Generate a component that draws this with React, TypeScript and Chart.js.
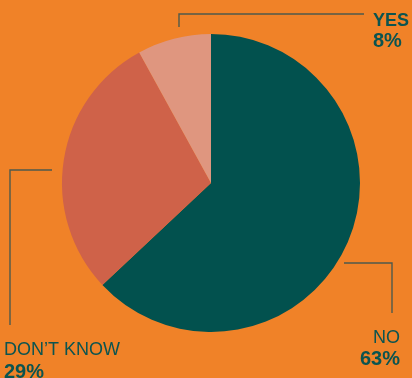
import React, { useEffect, useRef } from "react";
import { Chart, registerables } from "chart.js";

Chart.register(...registerables);

const categories = ["NO", "DON\u2019T KNOW", "YES"];
const values = [63, 29, 8];
const colors = ["#02514E", "#CF6249", "#DF967F"];

const BG = "#F08228";
const TEXT = "#0B5450";
const LINE = "#4E5A4C";

const calloutPlugin = {
  id: "callouts",
  afterDraw(chart: any) {
    const ctx = chart.ctx;
    const arc = chart.getDatasetMeta(0).data[0];
    if (!arc) return;
    const cx = arc.x;
    const cy = arc.y;
    const r = arc.outerRadius;
    ctx.save();
    ctx.strokeStyle = LINE;
    ctx.lineWidth = 1.4;
    ctx.lineCap = "butt";

    // YES callout
    ctx.beginPath();
    ctx.moveTo(cx - 32, cy - r - 7);
    ctx.lineTo(cx - 32, cy - r - 20);
    ctx.lineTo(cx + 153, cy - r - 20);
    ctx.stroke();

    // DON'T KNOW callout
    ctx.beginPath();
    ctx.moveTo(cx - r - 10, cy - 13);
    ctx.lineTo(cx - r - 52, cy - 13);
    ctx.lineTo(cx - r - 52, cy + 142);
    ctx.stroke();

    // NO callout
    ctx.beginPath();
    ctx.moveTo(cx + r - 16, cy + 80);
    ctx.lineTo(cx + r + 32, cy + 80);
    ctx.lineTo(cx + r + 32, cy + 130);
    ctx.stroke();

    ctx.fillStyle = TEXT;
    ctx.textBaseline = "alphabetic";
    const boldLabel = "bold 18px 'Liberation Sans', Arial, sans-serif";
    const boldPct = "bold 20px 'Liberation Sans', Arial, sans-serif";
    const reg = "18px 'Liberation Sans', Arial, sans-serif";

    // YES
    ctx.textAlign = "left";
    ctx.font = boldLabel;
    ctx.fillText(categories[2], cx + 162, cy - r - 8);
    ctx.font = boldPct;
    ctx.fillText(values[2] + "%", cx + 162, cy - r + 13);

    // DON'T KNOW
    ctx.font = reg;
    ctx.fillText(categories[1], cx - r - 58, cy + 172);
    ctx.font = boldPct;
    ctx.fillText(values[1] + "%", cx - r - 58, cy + 195);

    // NO
    ctx.textAlign = "right";
    ctx.font = reg;
    ctx.fillText(categories[0], cx + r + 40, cy + 160);
    ctx.font = boldPct;
    ctx.fillText(values[0] + "%", cx + r + 40, cy + 182);

    ctx.restore();
  },
};

export default function App() {
  const ref = useRef<HTMLCanvasElement>(null);
  useEffect(() => {
    document.body.style.margin = "0";
    document.body.style.background = BG;
    const chart = new Chart(ref.current!, {
      type: "pie",
      data: {
        labels: categories,
        datasets: [
          {
            data: values,
            backgroundColor: colors,
            borderWidth: 0,
          },
        ],
      },
      options: {
        responsive: false,
        animation: false,
        layout: { padding: { left: 62, right: 52, top: 34, bottom: 46 } },
        plugins: {
          legend: { display: false },
          tooltip: { enabled: false },
        },
      },
      plugins: [calloutPlugin],
    });
    return () => chart.destroy();
  }, []);
  return (
    <div style={{ width: 412, height: 378, background: BG }}>
      <canvas ref={ref} width={412} height={378} style={{ display: "block" }} />
    </div>
  );
}
